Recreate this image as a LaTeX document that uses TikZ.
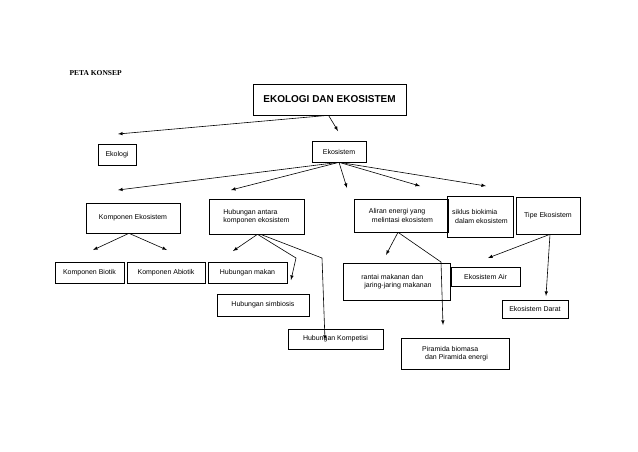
\documentclass[tikz,border=0pt]{standalone}
\usepackage{fontspec}
\setmainfont{Liberation Sans}
\newfontfamily\serifx{Liberation Serif}
\begin{document}
\begin{tikzpicture}[x=1pt,y=-1pt,
  bx/.style={draw,line width=0.6pt,font=\fontsize{7}{8.5}\selectfont,inner sep=0pt,align=left},
  ar/.style={-latex,line width=0.6pt}]
\useasboundingbox (0,0) rectangle (638,451);
\node[font=\serifx\bfseries\fontsize{7.5}{9}\selectfont,anchor=west] (pk) at (66,73) {PETA KONSEP};
\newcommand{\bxn}[6]{\node[bx,minimum width=#4-#2,minimum height=#5-#3] (#1) at ({(#2+#4)/2},{(#3+#5)/2}) {#6};}
\bxn{top}{253}{84}{406}{115}{\fontsize{10}{12}\selectfont\bfseries EKOLOGI DAN EKOSISTEM}
\bxn{ekol}{98}{144}{136}{165}{Ekologi}
\bxn{ekos}{312}{141}{366}{162}{Ekosistem}
\bxn{komp}{86}{203}{180}{233}{Komponen Ekosistem}
\bxn{hub}{209}{199}{304}{234}{Hubungan antara\\komponen ekosistem}
\bxn{alir}{354}{199}{448}{232}{Aliran energi yang\\\hspace*{3pt}melintasi ekosistem}
\bxn{sik}{447}{196}{513}{237}{siklus biokimia\\\hspace*{3pt}dalam ekosistem}
\bxn{tipe}{516}{197}{580}{234}{Tipe Ekosistem}
\bxn{biot}{55}{262}{124}{283}{Komponen Biotik}
\bxn{abio}{127}{262}{205}{283}{Komponen Abiotik}
\bxn{makan}{208}{262}{287}{283}{Hubungan makan}
\bxn{simb}{217}{294}{309}{316}{Hubungan simbiosis}
\bxn{komp2}{288}{329}{383}{349}{Hubungan Kompetisi}
\bxn{rant}{343}{263}{450}{300}{rantai makanan dan\\\hspace*{3pt}jaring-jaring makanan}
\bxn{air}{451}{267}{520}{286}{Ekosistem Air}
\bxn{darat}{502}{300}{568}{318}{Ekosistem Darat}
\bxn{pir}{401}{338}{509}{369}{Piramida biomasa\\\hspace*{3pt}dan Piramida energi}
\coordinate (a1) at (118,134); \coordinate (a2) at (338,131);
\draw[ar] (top.south) ++(-1,0) -- (a1);
\draw[ar] (top.south) ++(-1,0) -- (a2);
\foreach \p in {(118,190),(231,190),(347,188),(420,186),(486,186)}
  \draw[ar] (ekos.south) -- \p;
\draw[ar] (komp.south) ++(-4,0) -- (93,250);
\draw[ar] (komp.south) ++(-4,0) -- (167,250);
\draw[ar] (hub.south) ++(1,0) -- (233,251);
\draw[ar] (hub.south) ++(1,0) -- (296,258) -- (291,280);
\draw[ar] (hub.south) ++(4,0) -- (322,258) -- (325,340);
\draw[ar] (alir.south) ++(-3,0) -- (386,255);
\draw[ar] (alir.south) ++(-3,0) -- (441,262) -- (443,325);
\draw[ar] (tipe.south) ++(2,0) -- (488,258);
\draw[ar] (tipe.south) ++(2,0) -- (546,296);
\end{tikzpicture}
\end{document}
